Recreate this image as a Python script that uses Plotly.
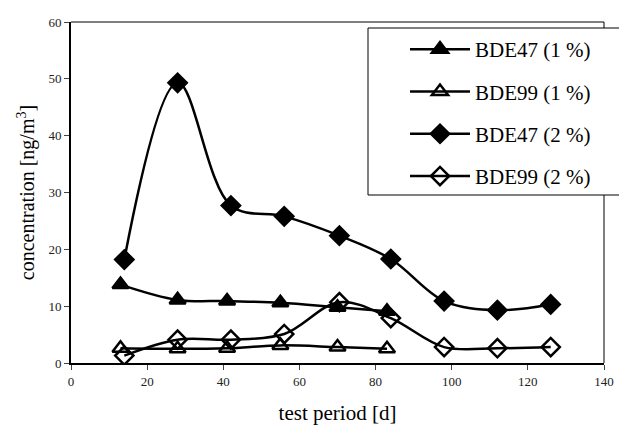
import plotly.graph_objects as go

x_short = [13, 28, 41, 55, 70, 83]
bde47_1 = [13.8, 11.1, 10.9, 10.6, 9.8, 9.1]
bde99_1 = [2.6, 2.5, 2.6, 3.1, 2.8, 2.5]

x_long = [14, 28, 42, 56, 70.5, 84, 98, 112, 126]
bde47_2 = [18.2, 49.3, 27.7, 25.8, 22.4, 18.3, 10.9, 9.3, 10.3]
bde99_2 = [1.3, 4.1, 4.1, 5.1, 10.7, 7.9, 2.8, 2.6, 2.8]

names = ["BDE47 (1 %)", "BDE99 (1 %)", "BDE47 (2 %)", "BDE99 (2 %)"]
x_ticks = [0, 20, 40, 60, 80, 100, 120, 140]
y_ticks = [0, 10, 20, 30, 40, 50, 60]

FONT = "Liberation Serif, Times New Roman, serif"

fig = go.Figure()
series = [
    (x_short, bde47_1, "triangle-up"),
    (x_short, bde99_1, "triangle-up-open"),
    (x_long, bde47_2, "diamond"),
    (x_long, bde99_2, "diamond-open"),
]
for i, (xs, ys, sym) in enumerate(series):
    fig.add_trace(go.Scatter(
        x=xs, y=ys, name=names[i], mode="lines+markers",
        legendgroup=f"g{i}",
        line=dict(color="black", width=2.5, shape="spline", smoothing=1.0),
        marker=dict(symbol=sym, size=14, color="black",
                    line=dict(color="black", width=2.5)),
    ))

# page body has an 8px default margin: figure starts at (8, 8) in the window
OFF = 8
W, H = 627 - OFF, 425 - OFF
L, R, T, B = 71 - OFF, 23, 22 - OFF, 62
PW, PH = W - L - R, H - T - B

def px_x(p):
    return (p - OFF - L) / PW

def px_y(p):
    return (H - B - (p - OFF)) / PH

# white legend box extending to the figure's right edge
fig.add_shape(type="rect", xref="paper", yref="paper",
              x0=px_x(368), x1=px_x(640), y0=px_y(195), y1=px_y(28),
              fillcolor="white", line=dict(color="black", width=1), layer="above")

fig.update_layout(
    width=W, height=H,
    margin=dict(l=L, r=R, t=T, b=B, autoexpand=False),
    paper_bgcolor="white", plot_bgcolor="white",
    font=dict(family=FONT, color="black"),
    showlegend=True,
    legend=dict(
        x=px_x(405), y=px_y(29), xanchor="left", yanchor="top",
        bgcolor="rgba(0,0,0,0)", borderwidth=0,
        font=dict(family=FONT, size=21, color="black"),
        tracegroupgap=12, itemwidth=60,
    ),
    xaxis=dict(
        range=[0, 140], tickvals=x_ticks, ticks="outside", ticklen=5, tickwidth=1,
        showline=True, linewidth=2, linecolor="black", automargin=False,
        showgrid=False, zeroline=False,
        tickfont=dict(family=FONT, size=13, color="#222"),
        title=dict(text="test period [d]", font=dict(family=FONT, size=21), standoff=30),
    ),
    yaxis=dict(
        range=[0, 60], tickvals=y_ticks, ticks="outside", ticklen=5, tickwidth=1,
        showline=True, linewidth=2, linecolor="black", automargin=False,
        showgrid=False, zeroline=False,
        tickfont=dict(family=FONT, size=13, color="#222"),
        title=dict(text="concentration [ng/m<sup>3</sup>]", font=dict(family=FONT, size=20), standoff=8),
    ),
)
# thin top and right frame
fig.add_shape(type="line", xref="paper", yref="paper", x0=0, x1=1, y0=1, y1=1,
              line=dict(color="black", width=1), layer="below")
fig.add_shape(type="line", xref="paper", yref="paper", x0=1, x1=1, y0=0, y1=1,
              line=dict(color="black", width=1), layer="below")

fig.write_html("out.html")
